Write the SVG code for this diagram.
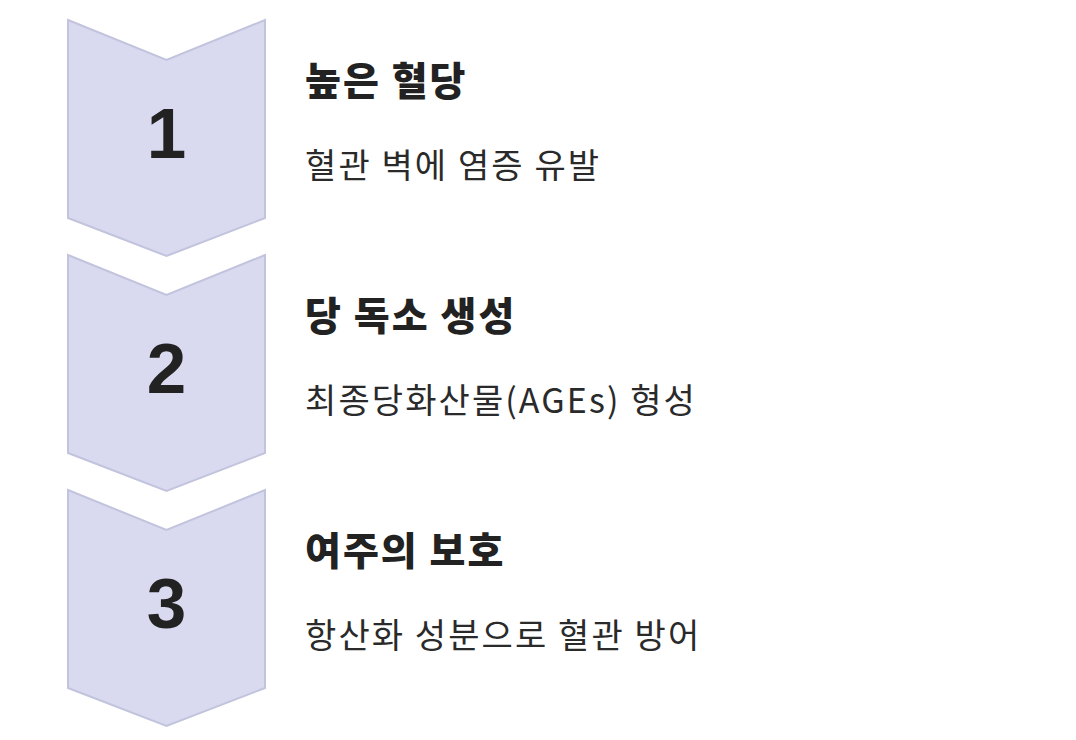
<svg xmlns="http://www.w3.org/2000/svg" width="1076" height="740" viewBox="0 0 1076 740">
<defs>
<style>
.chev{fill:#d9daf0;stroke:#c2c3dd;stroke-width:2;stroke-linejoin:miter}
.num{font-family:"Liberation Sans","Noto Sans",sans-serif;font-weight:700;font-size:71px;fill:#222222;text-anchor:middle}
.title{font-family:"Noto Sans CJK KR",sans-serif;font-weight:900;font-size:39px;fill:#222222;letter-spacing:2px}
.sub{font-family:"Noto Sans CJK KR",sans-serif;font-weight:400;font-size:34px;fill:#2a2a2a;letter-spacing:2.1px}
</style>
<path id="chevShape" d="M68,20 L166.5,60 L265,20 L265,218 L166.5,256 L68,218 Z"/>
</defs>
<rect width="1076" height="740" fill="#ffffff"/>
<g id="connectors"></g>
<g id="step1">
<use href="#chevShape" class="chev"/>
<text class="num" x="166.5" y="158">1</text>
<text class="title" x="305" y="95">높은 혈당</text>
<text class="sub" x="305" y="178">혈관 벽에 염증 유발</text>
</g>
<g id="step2" transform="translate(0,235)">
<use href="#chevShape" class="chev"/>
<text class="num" x="166.5" y="158">2</text>
<text class="title" x="305" y="95">당 독소 생성</text>
<text class="sub" x="305" y="178">최종당화산물(AGEs) 형성</text>
</g>
<g id="step3" transform="translate(0,470)">
<use href="#chevShape" class="chev"/>
<text class="num" x="166.5" y="158">3</text>
<text class="title" x="305" y="95">여주의 보호</text>
<text class="sub" x="305" y="178">항산화 성분으로 혈관 방어</text>
</g>
</svg>
